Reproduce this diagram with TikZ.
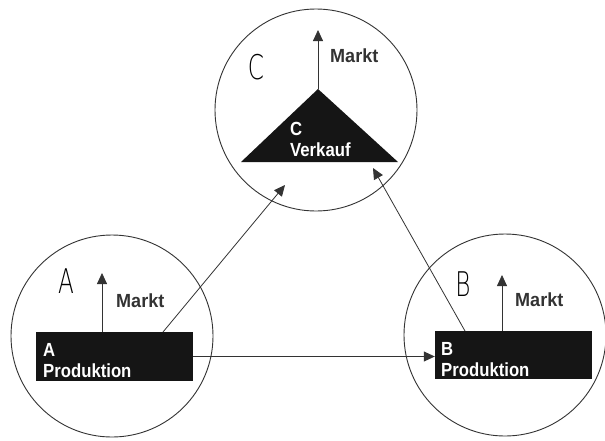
\documentclass[tikz,border=0pt]{standalone}
\usepackage{fontspec}
\setmainfont{Liberation Sans}
\newfontfamily\boxfont[FakeStretch=0.88]{Liberation Sans}
\newfontfamily\marktfont[FakeStretch=0.95]{Liberation Sans}
\newfontfamily\thinfont[FakeStretch=0.68]{DejaVu Sans ExtraLight}
\usetikzlibrary{arrows.meta}
\definecolor{ink}{HTML}{151515}
\definecolor{linegray}{HTML}{333333}
\tikzset{
  x=1pt, y=-1pt,
  ring/.style={circle, draw=linegray, line width=0.9pt, minimum size=202pt, inner sep=0pt},
  prodbox/.style={fill=ink, draw=none, minimum width=157pt, inner sep=0pt},
  boxtext/.style={text=white, font=\boxfont\bfseries\fontsize{19}{21}\selectfont, align=left, inner sep=0pt, anchor=north west},
  markt/.style={text=linegray, font=\marktfont\bfseries\fontsize{19}{21}\selectfont, inner sep=0pt, anchor=base west},
  bigletter/.style={text=black, font=\thinfont\fontsize{34}{34}\selectfont, inner sep=0pt},
  link/.style={draw=linegray, line width=0.8pt, -{Triangle[length=11pt,width=10pt]}},
}
\begin{document}
\begin{tikzpicture}
\useasboundingbox[fill=white] (0,0) rectangle (605,440);

% three circles
\node[ring] (cA) at (112,336) {};
\node[ring] (cB) at (505,335) {};
\node[ring] (cC) at (316,110) {};

% production boxes
\node[prodbox, minimum height=49pt] (pA) at (114.5,356.5) {};
\node[prodbox, minimum height=48pt] (pB) at (513.5,355) {};
\node[boxtext] (tA) at (43,343) {A\\Produktion};
\node[boxtext] (tB) at (441,342) {B\\Produktion};

% sales triangle
\coordinate (apex) at (318,89);
\coordinate (baseL) at (241,162);
\coordinate (baseR) at (398,162);
\fill[ink] (apex) -- (baseL) -- (baseR) -- cycle;
\node[boxtext] (tC) at (290,122) {C\\Verkauf};

% market arrows
\coordinate (mA) at (102,273);
\coordinate (mB) at (502,275);
\coordinate (mC) at (318,30);
\draw[link] (pA.north -| mA) -- (mA);
\draw[link] (pB.north -| mB) -- (mB);
\draw[link] (apex) -- (mC);
\node[markt] (kA) at (116,307) {Markt};
\node[markt] (kB) at (515,306) {Markt};
\node[markt] (kC) at (330,62) {Markt};

% big letters
\node[bigletter] (lA) at (66,281) {A};
\node[bigletter] (lB) at (463,284) {B};
\node[bigletter] (lC) at (256,67) {C};

% flows between the units
\coordinate (sAC) at (163,332);
\coordinate (eAC) at (285,185);
\coordinate (sBC) at (465,331);
\coordinate (eBC) at (373,168);
\draw[link] (sAC) -- (eAC);
\draw[link] (sBC) -- (eBC);
\draw[link] (pA.east) -- (pA.east -| pB.west);
\end{tikzpicture}
\end{document}
